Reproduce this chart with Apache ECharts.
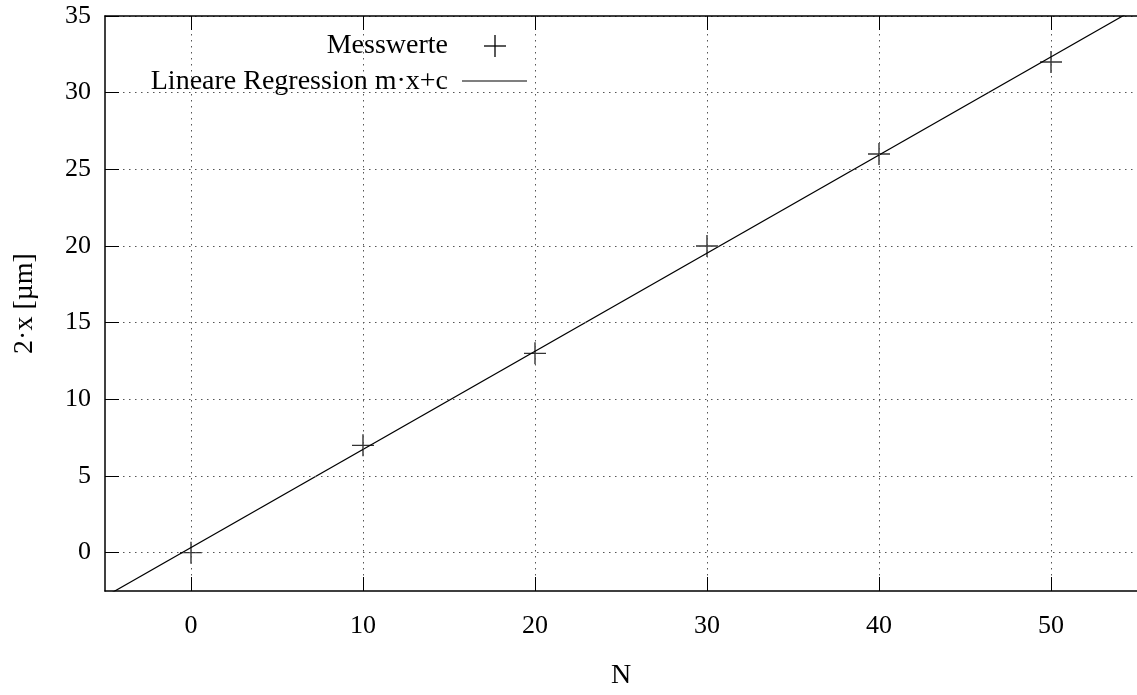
<!DOCTYPE html>
<html>
<head>
<meta charset="utf-8">
<script src="https://cdn.jsdelivr.net/npm/echarts@6/dist/echarts.min.js"></script>
<style>
html,body{margin:0;padding:0;background:#fff;}
#chart{width:1137px;height:695px;}
</style>
</head>
<body>
<div id="chart"></div>
<script>
// Data
const nValues = [0, 10, 20, 30, 40, 50];
const xValues2 = [0, 7, 13, 20, 26, 32];
const xTicks = [0, 10, 20, 30, 40, 50];
const yTicks = [0, 5, 10, 15, 20, 25, 30, 35];
const seriesNames = ['Messwerte', 'Lineare Regression m\u00b7x+c'];
const axisNames = ['N', '2\u00b7x [\u00b5m]'];

// least-squares fit of the measured points
const n = nValues.length;
const mx = nValues.reduce((a, b) => a + b, 0) / n;
const my = xValues2.reduce((a, b) => a + b, 0) / n;
let sxy = 0, sxx = 0;
for (let i = 0; i < n; i++) { sxy += (nValues[i] - mx) * (xValues2[i] - my); sxx += (nValues[i] - mx) ** 2; }
const slope = sxy / sxx;
const intercept = my - slope * mx;
const fitX = [-5, 55];
const fitLine = fitX.map(x => [x, slope * x + intercept]);

const FONT = 'Liberation Serif';
const plusPath = 'path://M11,0L11,22M0,11L22,11';

const chart = echarts.init(document.getElementById('chart'), null, {renderer: 'canvas'});
const gridLine = {show: true, lineStyle: {color: '#555', width: 1, type: [1.5, 4.5]}};
chart.setOption({
  backgroundColor: '#fff',
  animation: false,
  grid: {left: 105, top: 16, width: 1036, height: 579, containLabel: false},
  xAxis: [{
    type: 'value', min: -5, max: 55, splitNumber: 6, position: 'bottom', z: 5,
    name: axisNames[0], nameLocation: 'middle', nameGap: 71,
    nameTextStyle: {fontFamily: FONT, fontSize: 28, color: '#000'},
    axisLine: {show: true, onZero: false, lineStyle: {color: '#000', width: 1.5}},
    axisTick: {show: true, inside: true, length: 14, customValues: xTicks, lineStyle: {color: '#000', width: 1}},
    axisLabel: {customValues: xTicks, margin: 22, fontFamily: FONT, fontSize: 26, color: '#000'},
    splitLine: gridLine
  }, {
    type: 'value', min: -5, max: 55, splitNumber: 6, position: 'top', z: 5,
    axisLine: {show: true, onZero: false, lineStyle: {color: '#000', width: 1.5}},
    axisTick: {show: true, inside: true, length: 14, customValues: xTicks, lineStyle: {color: '#000', width: 1}},
    axisLabel: {show: false},
    splitLine: {show: false}
  }],
  yAxis: [{
    type: 'value', min: -2.5, max: 35, splitNumber: 8, position: 'left', z: 5,
    name: axisNames[1], nameLocation: 'middle', nameGap: 66, nameRotate: 90,
    nameTextStyle: {fontFamily: FONT, fontSize: 28, color: '#000'},
    axisLine: {show: true, onZero: false, lineStyle: {color: '#000', width: 1.5}},
    axisTick: {show: true, inside: true, length: 14, customValues: yTicks, lineStyle: {color: '#000', width: 1}},
    axisLabel: {customValues: yTicks, margin: 14, fontFamily: FONT, fontSize: 26, color: '#000'},
    splitLine: gridLine
  }],
  graphic: [
    {type: 'rect', z: 3, shape: {x: 106, y: 17, width: 432, height: 79}, style: {fill: '#fff'}},
    {type: 'text', z: 4, x: 448, y: 46, style: {text: seriesNames[0], font: '28px "' + FONT + '"', fill: '#000', align: 'right', verticalAlign: 'middle'}},
    {type: 'text', z: 4, x: 448, y: 82, style: {text: seriesNames[1], font: '28px "' + FONT + '"', fill: '#000', align: 'right', verticalAlign: 'middle'}},
    {type: 'line', z: 4, shape: {x1: 484, y1: 46, x2: 506, y2: 46}, style: {stroke: '#000', lineWidth: 1.3}},
    {type: 'line', z: 4, shape: {x1: 495, y1: 35, x2: 495, y2: 57}, style: {stroke: '#000', lineWidth: 1.3}},
    {type: 'line', z: 4, shape: {x1: 462, y1: 81, x2: 527, y2: 81}, style: {stroke: '#000', lineWidth: 1.2}}
  ],
  series: [{
    name: seriesNames[0], type: 'scatter', data: nValues.map((x, i) => [x, xValues2[i]]),
    symbol: plusPath, symbolSize: 22,
    itemStyle: {color: 'none', borderColor: '#000', borderWidth: 1.4}
  }, {
    name: seriesNames[1], type: 'line', data: fitLine, showSymbol: false, symbol: 'none', clip: true,
    lineStyle: {color: '#000', width: 1.2}
  }]
});
</script>
</body>
</html>
